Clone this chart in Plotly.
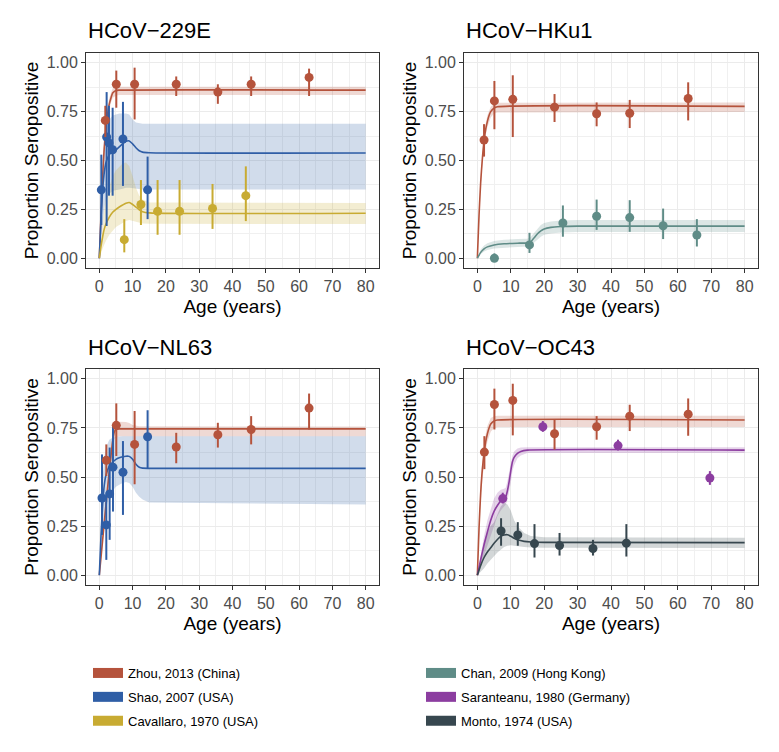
import plotly.graph_objects as go
from plotly.subplots import make_subplots

FONT = "Liberation Sans, Arial, Helvetica, sans-serif"
W, H = 779, 752

# ---- colours per study ----
ZHOU = "#B5533C"
SHAO = "#2F5EA6"
CAVALLARO = "#C8AB32"
CHAN = "#5F8C87"
SARANTEANU = "#8C3DA0"
MONTO = "#37474F"

# ================= HCoV-229E =================
e229_zhou_age = [1.8, 5.1, 10.6, 23.1, 35.6, 45.6, 63.0]
e229_zhou_val = [0.705, 0.89, 0.89, 0.89, 0.85, 0.89, 0.925]
e229_zhou_lo = [0.62, 0.77, 0.71, 0.83, 0.79, 0.83, 0.83]
e229_zhou_hi = [0.78, 0.96, 0.975, 0.93, 0.89, 0.93, 0.97]
e229_zhou_fit_age = [0, 0.5, 1, 1.5, 2, 2.5, 3, 3.5, 4, 5, 6, 80]
e229_zhou_fit = [0, 0.22, 0.42, 0.57, 0.67, 0.74, 0.79, 0.82, 0.845, 0.858, 0.86, 0.86]
e229_zhou_fit_lo = [0, 0.2, 0.39, 0.54, 0.64, 0.71, 0.76, 0.795, 0.82, 0.832, 0.835, 0.835]
e229_zhou_fit_hi = [0, 0.24, 0.45, 0.6, 0.7, 0.77, 0.82, 0.85, 0.87, 0.877, 0.877, 0.877]

e229_shao_age = [0.6, 2.2, 2.9, 4.0, 7.1, 14.5]
e229_shao_val = [0.35, 0.62, 0.59, 0.555, 0.61, 0.35]
e229_shao_lo = [0.17, 0.165, 0.32, 0.32, 0.37, 0.20]
e229_shao_hi = [0.53, 0.85, 0.78, 0.77, 0.80, 0.52]
e229_shao_fit_age = [0, 0.5, 1, 1.5, 2, 3, 4, 5, 6, 7, 8, 9, 10, 11, 12, 13, 15, 80]
e229_shao_fit = [0, 0.2, 0.35, 0.44, 0.49, 0.53, 0.545, 0.555, 0.57, 0.585, 0.598, 0.6,
                 0.585, 0.565, 0.55, 0.543, 0.54, 0.538]
e229_shao_fit_lo = [0, 0.1, 0.2, 0.26, 0.3, 0.33, 0.345, 0.35, 0.352, 0.355, 0.36, 0.36,
                    0.358, 0.355, 0.353, 0.352, 0.352, 0.352]
e229_shao_fit_hi = [0, 0.3, 0.5, 0.6, 0.66, 0.71, 0.73, 0.735, 0.74, 0.74, 0.74, 0.735,
                    0.71, 0.695, 0.69, 0.688, 0.688, 0.688]

e229_cav_age = [7.5, 12.5, 17.5, 24.1, 34.0, 44.0]
e229_cav_val = [0.095, 0.275, 0.24, 0.24, 0.255, 0.32]
e229_cav_lo = [0.03, 0.17, 0.12, 0.12, 0.15, 0.19]
e229_cav_hi = [0.20, 0.40, 0.40, 0.40, 0.38, 0.47]
e229_cav_fit_age = [0, 0.5, 1, 1.5, 2, 3, 4, 5, 6, 7, 8, 9, 10, 11, 12, 13, 15, 80]
e229_cav_fit = [0, 0.06, 0.11, 0.15, 0.175, 0.21, 0.235, 0.25, 0.262, 0.272, 0.281, 0.285,
                0.275, 0.262, 0.248, 0.238, 0.232, 0.23]
e229_cav_fit_lo = [0, 0.03, 0.05, 0.07, 0.09, 0.12, 0.14, 0.16, 0.17, 0.18, 0.19, 0.195,
                   0.19, 0.185, 0.18, 0.178, 0.176, 0.175]
e229_cav_fit_hi = [0, 0.1, 0.19, 0.26, 0.31, 0.37, 0.42, 0.45, 0.47, 0.485, 0.49, 0.47,
                   0.42, 0.36, 0.32, 0.3, 0.285, 0.282]

# ================= HCoV-HKu1 =================
hku1_zhou_age = [2.0, 5.1, 10.6, 23.1, 35.7, 45.6, 63.1]
hku1_zhou_val = [0.605, 0.805, 0.813, 0.773, 0.739, 0.742, 0.817]
hku1_zhou_lo = [0.52, 0.66, 0.62, 0.697, 0.675, 0.666, 0.705]
hku1_zhou_hi = [0.686, 0.907, 0.936, 0.84, 0.797, 0.81, 0.90]
hku1_zhou_fit_age = [0, 0.5, 1, 1.5, 2, 2.5, 3, 3.5, 4, 5, 6, 80]
hku1_zhou_fit = [0, 0.22, 0.39, 0.51, 0.6, 0.66, 0.7, 0.73, 0.75, 0.768, 0.775, 0.777]
hku1_zhou_fit_lo = [0, 0.2, 0.36, 0.48, 0.57, 0.63, 0.67, 0.7, 0.72, 0.74, 0.745, 0.748]
hku1_zhou_fit_hi = [0, 0.24, 0.42, 0.54, 0.63, 0.69, 0.73, 0.755, 0.775, 0.79, 0.795, 0.797]

hku1_chan_age = [5.1, 15.6, 25.6, 35.7, 45.6, 55.6, 65.7]
hku1_chan_val = [0.0, 0.068, 0.18, 0.215, 0.208, 0.166, 0.119]
hku1_chan_lo = [0.0, 0.027, 0.11, 0.145, 0.135, 0.098, 0.06]
hku1_chan_hi = [0.025, 0.13, 0.27, 0.30, 0.297, 0.254, 0.20]
hku1_chan_fit_age = [0, 1, 2, 3, 5, 8, 12, 15, 16, 17, 18, 19, 20, 22, 25, 30, 80]
hku1_chan_fit = [0, 0.03, 0.048, 0.058, 0.068, 0.074, 0.077, 0.078, 0.085, 0.105, 0.125,
                 0.14, 0.15, 0.158, 0.162, 0.164, 0.164]
hku1_chan_fit_lo = [0, 0.02, 0.034, 0.042, 0.05, 0.055, 0.058, 0.06, 0.065, 0.08, 0.097,
                    0.11, 0.12, 0.127, 0.132, 0.134, 0.134]
hku1_chan_fit_hi = [0, 0.045, 0.065, 0.076, 0.088, 0.095, 0.098, 0.1, 0.11, 0.13, 0.155,
                    0.17, 0.18, 0.188, 0.193, 0.195, 0.195]

# ================= HCoV-NL63 =================
nl63_zhou_age = [2.1, 5.1, 10.6, 23.1, 35.6, 45.6, 63.0]
nl63_zhou_val = [0.585, 0.763, 0.666, 0.653, 0.715, 0.742, 0.851]
nl63_zhou_lo = [0.505, 0.607, 0.463, 0.57, 0.65, 0.666, 0.742]
nl63_zhou_hi = [0.666, 0.875, 0.836, 0.725, 0.776, 0.81, 0.925]
nl63_zhou_fit_age = [0, 1, 2, 3, 4, 4.5, 5, 6, 8, 9, 10, 12, 80]
nl63_zhou_fit = [0, 0.18, 0.36, 0.53, 0.68, 0.73, 0.742, 0.745, 0.745, 0.745, 0.745, 0.745, 0.745]
nl63_zhou_fit_lo = [0, 0.15, 0.32, 0.49, 0.64, 0.69, 0.703, 0.708, 0.708, 0.708, 0.708, 0.708, 0.708]
nl63_zhou_fit_hi = [0, 0.21, 0.4, 0.58, 0.73, 0.77, 0.78, 0.782, 0.78, 0.775, 0.765, 0.758, 0.757]

nl63_shao_age = [0.8, 2.1, 3.1, 4.1, 7.1, 14.5]
nl63_shao_val = [0.393, 0.256, 0.414, 0.55, 0.524, 0.705]
nl63_shao_lo = [0.205, 0.078, 0.18, 0.324, 0.307, 0.544]
nl63_shao_hi = [0.615, 0.41, 0.65, 0.765, 0.683, 0.84]
nl63_shao_fit_age = [0, 0.5, 1, 1.5, 2, 3, 4, 5, 6, 7, 8, 9, 10, 11, 12, 13, 15, 80]
nl63_shao_fit = [0, 0.2, 0.36, 0.46, 0.51, 0.555, 0.575, 0.59, 0.598, 0.603, 0.606, 0.605,
                 0.59, 0.565, 0.55, 0.545, 0.544, 0.544]
nl63_shao_fit_lo = [0, 0.1, 0.2, 0.28, 0.34, 0.4, 0.43, 0.45, 0.46, 0.47, 0.475, 0.47,
                    0.45, 0.42, 0.4, 0.385, 0.37, 0.36]
nl63_shao_fit_hi = [0, 0.3, 0.5, 0.6, 0.65, 0.69, 0.7, 0.705, 0.708, 0.708, 0.708, 0.708,
                    0.708, 0.708, 0.708, 0.708, 0.708, 0.708]

# ================= HCoV-OC43 =================
oc43_zhou_age = [2.1, 5.1, 10.6, 23.1, 35.7, 45.6, 63.1]
oc43_zhou_val = [0.627, 0.869, 0.89, 0.72, 0.756, 0.81, 0.82]
oc43_zhou_lo = [0.54, 0.742, 0.712, 0.64, 0.69, 0.734, 0.71]
oc43_zhou_hi = [0.708, 0.95, 0.975, 0.793, 0.81, 0.868, 0.90]
oc43_zhou_fit_age = [0, 0.5, 1, 1.5, 2, 2.5, 3, 3.5, 4, 5, 6, 80]
oc43_zhou_fit = [0, 0.24, 0.42, 0.54, 0.62, 0.68, 0.72, 0.75, 0.77, 0.785, 0.79, 0.79]
oc43_zhou_fit_lo = [0, 0.2, 0.37, 0.49, 0.57, 0.63, 0.68, 0.71, 0.73, 0.75, 0.755, 0.755]
oc43_zhou_fit_hi = [0, 0.28, 0.47, 0.59, 0.67, 0.72, 0.76, 0.785, 0.8, 0.81, 0.812, 0.812]

oc43_sar_age = [7.6, 19.6, 42.1, 69.6]
oc43_sar_val = [0.39, 0.756, 0.66, 0.495]
oc43_sar_lo = [0.365, 0.73, 0.635, 0.46]
oc43_sar_hi = [0.42, 0.785, 0.69, 0.53]
oc43_sar_fit_age = [0, 1, 2, 3, 4, 5, 6, 7, 8, 8.5, 9, 9.5, 10, 10.5, 11, 12, 13, 15, 80]
oc43_sar_fit = [0, 0.08, 0.155, 0.22, 0.28, 0.325, 0.355, 0.378, 0.392, 0.4, 0.43, 0.475,
                0.53, 0.578, 0.6, 0.62, 0.63, 0.637, 0.637]
oc43_sar_fit_lo = [0, 0.05, 0.11, 0.16, 0.21, 0.26, 0.3, 0.33, 0.35, 0.36, 0.38, 0.42,
                   0.47, 0.53, 0.56, 0.595, 0.61, 0.622, 0.622]
oc43_sar_fit_hi = [0, 0.11, 0.2, 0.28, 0.34, 0.39, 0.42, 0.435, 0.44, 0.445, 0.48, 0.53,
                   0.58, 0.61, 0.63, 0.645, 0.65, 0.652, 0.652]

oc43_monto_age = [7.1, 12.1, 17.1, 24.6, 34.6, 44.6]
oc43_monto_val = [0.225, 0.205, 0.161, 0.151, 0.136, 0.163]
oc43_monto_lo = [0.15, 0.15, 0.09, 0.10, 0.10, 0.095]
oc43_monto_hi = [0.29, 0.27, 0.26, 0.215, 0.18, 0.26]
oc43_monto_fit_age = [0, 1, 2, 3, 4, 5, 6, 7, 8, 9, 10, 11, 12, 14, 16, 20, 80]
oc43_monto_fit = [0, 0.05, 0.09, 0.118, 0.14, 0.163, 0.182, 0.198, 0.205, 0.206, 0.198,
                  0.188, 0.18, 0.172, 0.169, 0.167, 0.166]
oc43_monto_fit_lo = [0, 0.015, 0.035, 0.06, 0.08, 0.1, 0.115, 0.13, 0.143, 0.15, 0.152,
                     0.15, 0.147, 0.143, 0.141, 0.14, 0.139]
oc43_monto_fit_hi = [0, 0.09, 0.17, 0.22, 0.25, 0.27, 0.31, 0.35, 0.37, 0.36, 0.33, 0.28,
                     0.25, 0.215, 0.2, 0.193, 0.19]

PANEL_TITLES = ["HCoV\u2212229E", "HCoV\u2212HKu1", "HCoV\u2212NL63", "HCoV\u2212OC43"]
X_TICKS = [0, 10, 20, 30, 40, 50, 60, 70, 80]
Y_TICKS = [0, 0.25, 0.5, 0.75, 1.0]
Y_TICK_TEXT = ["0.00", "0.25", "0.50", "0.75", "1.00"]

LEGEND_LEFT = [("Zhou, 2013 (China)", ZHOU), ("Shao, 2007 (USA)", SHAO),
               ("Cavallaro, 1970 (USA)", CAVALLARO)]
LEGEND_RIGHT = [("Chan, 2009 (Hong Kong)", CHAN), ("Saranteanu, 1980 (Germany)", SARANTEANU),
                ("Monto, 1974 (USA)", MONTO)]

# (row, col, colour, fit age, fit, lo, hi, point age, val, lo, hi)
series = [
    (1, 1, ZHOU, e229_zhou_fit_age, e229_zhou_fit, e229_zhou_fit_lo, e229_zhou_fit_hi,
     e229_zhou_age, e229_zhou_val, e229_zhou_lo, e229_zhou_hi),
    (1, 1, SHAO, e229_shao_fit_age, e229_shao_fit, e229_shao_fit_lo, e229_shao_fit_hi,
     e229_shao_age, e229_shao_val, e229_shao_lo, e229_shao_hi),
    (1, 1, CAVALLARO, e229_cav_fit_age, e229_cav_fit, e229_cav_fit_lo, e229_cav_fit_hi,
     e229_cav_age, e229_cav_val, e229_cav_lo, e229_cav_hi),
    (1, 2, ZHOU, hku1_zhou_fit_age, hku1_zhou_fit, hku1_zhou_fit_lo, hku1_zhou_fit_hi,
     hku1_zhou_age, hku1_zhou_val, hku1_zhou_lo, hku1_zhou_hi),
    (1, 2, CHAN, hku1_chan_fit_age, hku1_chan_fit, hku1_chan_fit_lo, hku1_chan_fit_hi,
     hku1_chan_age, hku1_chan_val, hku1_chan_lo, hku1_chan_hi),
    (2, 1, ZHOU, nl63_zhou_fit_age, nl63_zhou_fit, nl63_zhou_fit_lo, nl63_zhou_fit_hi,
     nl63_zhou_age, nl63_zhou_val, nl63_zhou_lo, nl63_zhou_hi),
    (2, 1, SHAO, nl63_shao_fit_age, nl63_shao_fit, nl63_shao_fit_lo, nl63_shao_fit_hi,
     nl63_shao_age, nl63_shao_val, nl63_shao_lo, nl63_shao_hi),
    (2, 2, ZHOU, oc43_zhou_fit_age, oc43_zhou_fit, oc43_zhou_fit_lo, oc43_zhou_fit_hi,
     oc43_zhou_age, oc43_zhou_val, oc43_zhou_lo, oc43_zhou_hi),
    (2, 2, SARANTEANU, oc43_sar_fit_age, oc43_sar_fit, oc43_sar_fit_lo, oc43_sar_fit_hi,
     oc43_sar_age, oc43_sar_val, oc43_sar_lo, oc43_sar_hi),
    (2, 2, MONTO, oc43_monto_fit_age, oc43_monto_fit, oc43_monto_fit_lo, oc43_monto_fit_hi,
     oc43_monto_age, oc43_monto_val, oc43_monto_lo, oc43_monto_hi),
]


def rgba(hex_color, a):
    h = hex_color.lstrip("#")
    r, g, b = int(h[0:2], 16), int(h[2:4], 16), int(h[4:6], 16)
    return f"rgba({r},{g},{b},{a})"


fig = make_subplots(rows=2, cols=2)

# ribbons first, then lines, then points
for row, col, color, fa, fm, flo, fhi, *_ in series:
    fig.add_trace(go.Scatter(x=fa, y=flo, mode="lines", line=dict(width=0), showlegend=False,
                             hoverinfo="skip"), row=row, col=col)
    fig.add_trace(go.Scatter(x=fa, y=fhi, mode="lines", line=dict(width=0), fill="tonexty",
                             fillcolor=rgba(color, 0.22), showlegend=False, hoverinfo="skip"),
                  row=row, col=col)
for row, col, color, fa, fm, *_ in series:
    fig.add_trace(go.Scatter(x=fa, y=fm, mode="lines",
                             line=dict(color=color, width=1.6, shape="spline", smoothing=0.6),
                             showlegend=False), row=row, col=col)
# Zhou points sit on top of the others in the original
for row, col, color, fa, fm, flo, fhi, pa, pv, plo, phi in reversed(series):
    fig.add_trace(go.Scatter(
        x=pa, y=pv, mode="markers", marker=dict(color=color, size=9),
        error_y=dict(type="data", symmetric=False,
                     array=[h - v for h, v in zip(phi, pv)],
                     arrayminus=[v - l for v, l in zip(pv, plo)],
                     color=color, thickness=2, width=0),
        showlegend=False), row=row, col=col)

# legend keys
for name, color in LEGEND_LEFT:
    fig.add_trace(go.Scatter(x=[None], y=[None], mode="lines", name=name,
                             line=dict(color=color, width=10), legend="legend", legendgroup=name))
for name, color in LEGEND_RIGHT:
    fig.add_trace(go.Scatter(x=[None], y=[None], mode="lines", name=name,
                             line=dict(color=color, width=10), legend="legend2", legendgroup=name))

# panel geometry in pixels
cols_px = [(86, 379), (464, 758)]
rows_px = [(53, 268), (369, 585)]
title_y_px = [31, 347]

axis_num = 0
for r in range(2):
    for c in range(2):
        axis_num += 1
        suffix = "" if axis_num == 1 else str(axis_num)
        x0, x1 = cols_px[c]
        y0, y1 = rows_px[r]
        fig.layout["xaxis" + suffix].update(
            domain=[x0 / W, x1 / W], range=[-4, 84], tickvals=X_TICKS, automargin=False,
            showline=True, mirror=True, linecolor="#333333", linewidth=1,
            gridcolor="#EBEBEB", gridwidth=1.2, zeroline=False,
            ticks="outside", ticklen=4, tickcolor="#333333",
            tickfont=dict(size=16, color="#4D4D4D", family=FONT),
            minor=dict(dtick=5, tick0=0, showgrid=True, gridcolor="#F0F0F0", gridwidth=0.8),
            title=dict(text="Age (years)", font=dict(size=19, color="black", family=FONT), standoff=5),
        )
        fig.layout["yaxis" + suffix].update(
            domain=[1 - y1 / H, 1 - y0 / H], range=[-0.05, 1.05], automargin=False,
            tickvals=Y_TICKS, ticktext=Y_TICK_TEXT,
            showline=True, mirror=True, linecolor="#333333", linewidth=1,
            gridcolor="#EBEBEB", gridwidth=1.2, zeroline=False,
            ticks="outside", ticklen=4, tickcolor="#333333",
            tickfont=dict(size=16, color="#4D4D4D", family=FONT),
            minor=dict(dtick=0.125, tick0=0, showgrid=True, gridcolor="#F0F0F0", gridwidth=0.8),
            title=dict(text="Proportion Seropositive", font=dict(size=19, color="black", family=FONT),
                       standoff=3),
        )
        fig.add_annotation(text=PANEL_TITLES[axis_num - 1], xref="paper", yref="paper",
                           x=x0 / W, y=1 - title_y_px[r] / H, xanchor="left", yanchor="middle",
                           showarrow=False, font=dict(size=22, color="black", family=FONT))

legend_style = dict(font=dict(size=13, color="black", family=FONT), bgcolor="rgba(0,0,0,0)",
                    tracegroupgap=4, yanchor="top", xanchor="left", itemwidth=30)
fig.update_layout(
    width=W, height=H,
    paper_bgcolor="white", plot_bgcolor="white",
    font=dict(family=FONT, color="black"),
    margin=dict(l=0, r=0, t=0, b=0),
    legend=dict(x=88 / W, y=1 - 658 / H, **legend_style),
    legend2=dict(x=421 / W, y=1 - 658 / H, **legend_style),
)

# the page body has a default 8px margin; drop it so the figure fills the window
fig.write_html("out.html", config={"displayModeBar": False},
               post_script="document.body.style.margin = '0';")
